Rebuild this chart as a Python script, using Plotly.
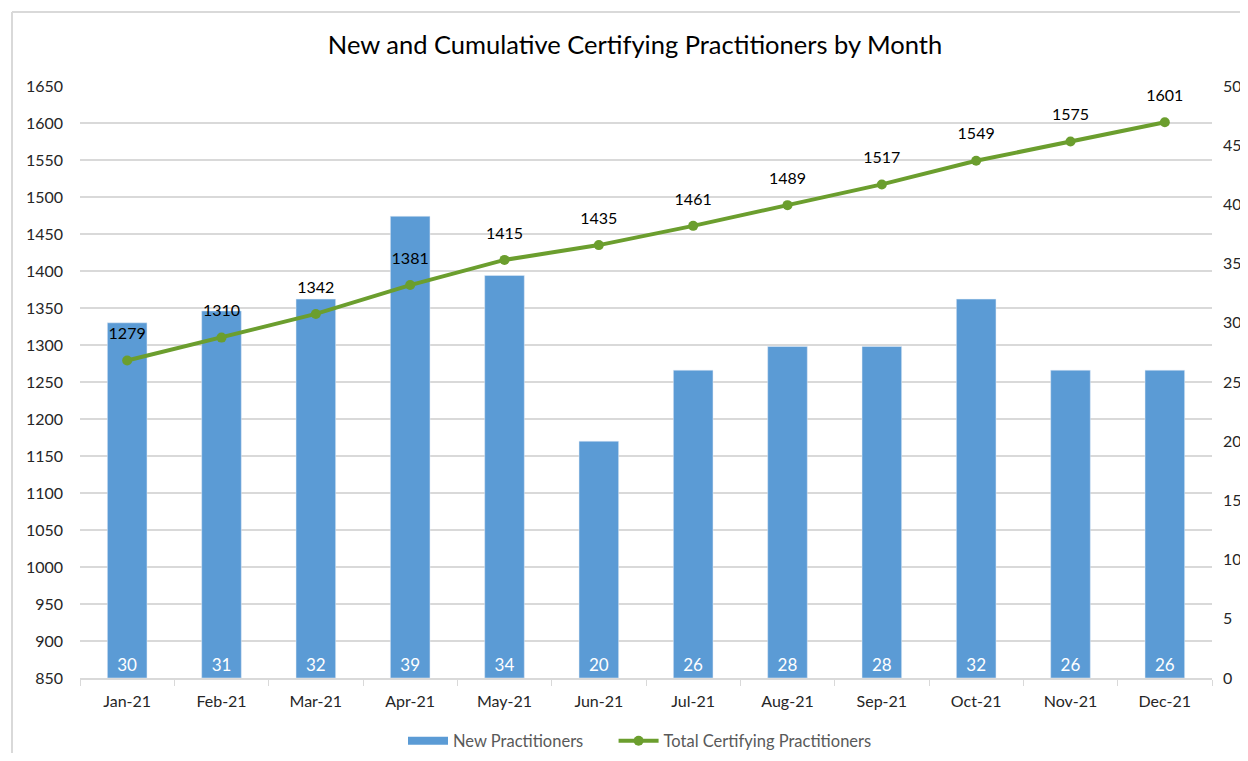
import plotly.graph_objects as go

months = ["Jan-21", "Feb-21", "Mar-21", "Apr-21", "May-21", "Jun-21",
          "Jul-21", "Aug-21", "Sep-21", "Oct-21", "Nov-21", "Dec-21"]
new_practitioners = [30, 31, 32, 39, 34, 20, 26, 28, 28, 32, 26, 26]
total_practitioners = [1279, 1310, 1342, 1381, 1415, 1435, 1461, 1489, 1517, 1549, 1575, 1601]

FONT = "Lato"
BLUE = "#5B9BD5"
GREEN = "#6B9E2E"
OFF = 8  # browser default body margin
W, H = 1248 - OFF, 761 - 2 * OFF
L, T = 80 - OFF, 86 - OFF
R = W - (1212 - OFF)
B = H - (678 - OFF)
pw = W - L - R
ph = H - T - B

fig = go.Figure()
# legend-only entry for the bars (wide rectangle swatch)
fig.add_trace(go.Scatter(
    x=[None], y=[None], mode="lines", name="New Practitioners\u00a0\u00a0\u00a0\u00a0\u00a0\u00a0",
    line=dict(color=BLUE, width=8), yaxis="y", legendrank=1,
))
fig.add_trace(go.Bar(
    x=months, y=new_practitioners, name="New Practitioners",
    marker=dict(color=BLUE), width=0.42, showlegend=False,
    text=new_practitioners, textposition="inside", insidetextanchor="start",
    textfont=dict(color="white", size=17, family=FONT),
    yaxis="y",
))
fig.add_trace(go.Scatter(
    x=months, y=total_practitioners, name="Total Certifying Practitioners",
    mode="lines+markers",
    line=dict(color=GREEN, width=4),
    marker=dict(color=GREEN, size=10),
    yaxis="y2", legendrank=2,
))
# data labels for the line, offset above the markers
fig.add_trace(go.Scatter(
    x=months, y=total_practitioners, mode="markers+text", showlegend=False,
    marker=dict(size=26, opacity=0), hoverinfo="skip",
    text=total_practitioners, textposition="top center",
    textfont=dict(color="black", size=16, family=FONT),
    yaxis="y2",
))

fig.update_layout(
    width=W, height=H,
    margin=dict(l=L, r=R, t=T, b=B, autoexpand=False),
    paper_bgcolor="white", plot_bgcolor="white",
    font=dict(family=FONT, color="#404040", size=16),
    title=dict(text="New and Cumulative Certifying Practitioners by Month",
               xref="paper", x=(635 - OFF - L) / pw, xanchor="center",
               yref="container", y=1 - (45 - OFF) / H,
               yanchor="middle", font=dict(size=25.5, color="black", family=FONT)),
    xaxis=dict(type="category", range=[-0.5, len(months) - 0.5],
               showline=True, linecolor="#d9d9d9", linewidth=1.5,
               ticks="outside", tickson="boundaries", ticklen=6, tickcolor="#d9d9d9",
               tickfont=dict(size=16, color="#262626"), showgrid=False,
               ticklabelstandoff=8),
    yaxis=dict(range=[0, 50], dtick=5, side="right", showgrid=False,
               zeroline=False, tickfont=dict(size=16, color="#262626"),
               ticklabelstandoff=10),
    yaxis2=dict(range=[850, 1650], dtick=50, overlaying="y", side="left",
                showgrid=True, gridcolor="#d9d9d9", gridwidth=1.5, zeroline=False,
                tickfont=dict(size=16, color="#262626"), ticklabelstandoff=16),
    legend=dict(orientation="h", x=(640 - OFF - L) / pw, xanchor="center",
                y=-(741 - 678) / ph, yanchor="middle",
                font=dict(size=16.5, color="#595959"),
                traceorder="normal", itemwidth=40),
)

x_left = (12 - OFF - L) / pw
y_top = (H - B - (12 - OFF)) / ph
fig.add_shape(type="line", xref="paper", yref="paper", x0=x_left, x1=x_left,
              y0=y_top, y1=-0.2, line=dict(color="#d9d9d9", width=2))
fig.add_shape(type="line", xref="paper", yref="paper", x0=x_left, x1=1.2,
              y0=y_top, y1=y_top, line=dict(color="#d9d9d9", width=2))

fig.write_html("out.html")
